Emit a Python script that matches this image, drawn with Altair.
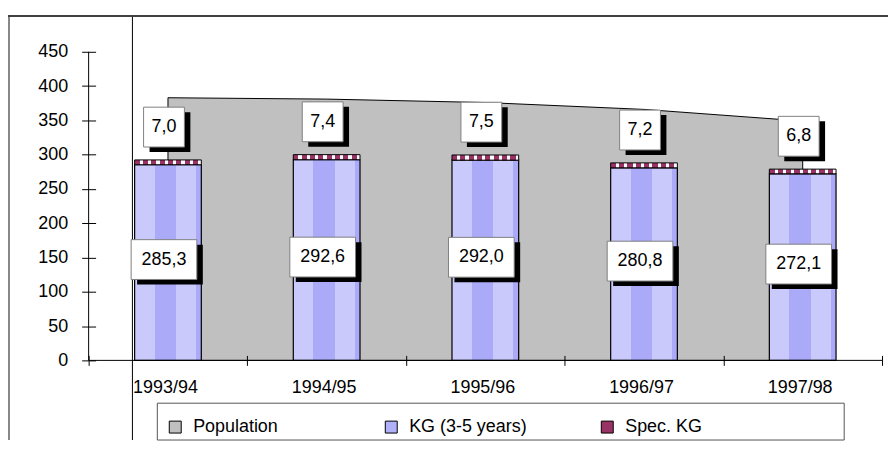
import altair as alt
import pandas as pd

# ---- data ----
years = ["1993/94", "1994/95", "1995/96", "1996/97", "1997/98"]
population = [383, 381, 376, 366, 349]
kg = [285.3, 292.6, 292.0, 280.8, 272.1]
spec_kg = [7.0, 7.4, 7.5, 7.2, 6.8]
y_ticks = [0, 50, 100, 150, 200, 250, 300, 350, 400, 450]
series = ["Population", "KG (3-5 years)", "Spec. KG"]


def fmt(v):
    return f"{v:.1f}".replace(".", ",")


df = pd.DataFrame({"year": years, "pop": population, "kg": kg, "spec": spec_kg})
df["top"] = df["kg"] + df["spec"]
df["mid"] = df["kg"] / 2
df["kg_label"] = [fmt(v) for v in kg]
df["spec_label"] = [fmt(v) for v in spec_kg]

FONT = "Liberation Sans"
W, H = 797, 310

# ---- styles ----
def stops(pairs):
    return [{"offset": o, "color": c} for o, c in pairs]

LIGHT, DARK = "#c9c9fc", "#aaaaf9"
kg_fill = {
    "gradient": "linear", "x1": 0, "x2": 1, "y1": 0, "y2": 0,
    "stops": stops([(0, LIGHT), (0.3, LIGHT), (0.3, DARK), (0.62, DARK),
                    (0.62, LIGHT), (0.92, LIGHT), (0.92, DARK), (1, DARK)]),
}
MAROON = "#993366"
sp = []
n = 8
for i in range(n):
    a = i / n
    b = (i + 0.62) / n
    c = (i + 1) / n
    sp += [(a, MAROON), (b, MAROON), (b, "white"), (c, "white")]
spec_fill = {"gradient": "linear", "x1": 0, "x2": 1, "y1": 0, "y2": 0, "stops": stops(sp)}

x_scale = alt.Scale(paddingInner=0, paddingOuter=0)
x_axis = alt.Axis(domain=False, offset=-5, tickSize=10, tickBand="extent",
                  labelPadding=13, labelAngle=0, labelOffset=-3, zindex=1)
x_enc = alt.X("year:N", sort=years, title=None, scale=x_scale, axis=x_axis)

y_scale = alt.Scale(domain=[0, 450], nice=False, zero=True)
y_axis = alt.Axis(domain=False, offset=-7, tickSize=14, labelPadding=14,
                  values=y_ticks, grid=False, zindex=1, labelOverlap=False)


def y_enc(field):
    return alt.Y(f"{field}:Q", title=None, scale=y_scale, axis=y_axis)

one = pd.DataFrame({"k": [0]})

# ---- decorative frame ----
frame_top = alt.Chart(one).mark_rule(color="#404040", strokeWidth=2).encode(
    x=alt.value(-81), x2=alt.value(W + 12), y=alt.value(-36))
frame_left = alt.Chart(one).mark_rule(color="#606060", strokeWidth=1.5).encode(
    x=alt.value(-80), y=alt.value(-36), y2=alt.value(H + 80))
frame_inner = alt.Chart(one).mark_rule(color="black", strokeWidth=1).encode(
    x=alt.value(44), y=alt.value(-36), y2=alt.value(H + 80))

# ---- data marks ----
area = alt.Chart(df).mark_area(fill="#c0c0c0", stroke="black", strokeWidth=1).encode(
    x=x_enc, y=y_enc("pop"))

bars_kg = alt.Chart(df).mark_bar(width=67, fill=kg_fill, stroke="black", strokeWidth=1.2).encode(
    x=x_enc, y=y_enc("kg"))

bars_spec = alt.Chart(df).mark_bar(width=67, fill=spec_fill, stroke="black", strokeWidth=1).encode(
    x=x_enc, y=y_enc("top"), y2="kg:Q")

# axis lines (drawn as rules so ticks can cross them)
x_axis_line = alt.Chart(one).mark_rule(color="black", strokeWidth=1).encode(
    x=alt.value(0), x2=alt.value(W), y=alt.value(H))
y_axis_line = alt.Chart(one).mark_rule(color="black", strokeWidth=1).encode(
    x=alt.value(0), y=alt.value(0), y2=alt.value(H))

BIG = "M-1,-0.606L1,-0.606L1,0.606L-1,0.606Z"
SMALL = "M-1,-0.976L1,-0.976L1,0.976L-1,0.976Z"


def label_layers(field, text_field, shape, size, dx, dy):
    base = alt.Chart(df).encode(x=x_enc, y=y_enc(field))
    shadow = base.mark_point(shape=shape, size=size, filled=True, fill="black",
                             strokeWidth=0, opacity=1, xOffset=dx + 6, yOffset=dy + 5)
    box = base.mark_point(shape=shape, size=size, filled=True, fill="white",
                          stroke="#808080", strokeWidth=1, opacity=1,
                          xOffset=dx, yOffset=dy)
    txt = base.mark_text(font=FONT, fontSize=18, color="black",
                         xOffset=dx, yOffset=dy).encode(text=f"{text_field}:N")
    return [shadow, box, txt]


kg_labels = label_layers("mid", "kg_label", BIG, 66 * 66, -4, -3)
spec_labels = label_layers("top", "spec_label", SMALL, 41 * 41, -4, -33)

# ---- legend ----
legend_box = alt.Chart(one).mark_rect(fill="transparent", stroke="#555555", strokeWidth=1).encode(
    x=alt.value(69), x2=alt.value(759), y=alt.value(353), y2=alt.value(390))

legend_layer = alt.Chart(pd.DataFrame({"series": series})).mark_square(
    size=0, stroke="black", strokeWidth=1, opacity=1).encode(
    color=alt.Color(
        "series:N",
        scale=alt.Scale(domain=series, range=["#c0c0c0", "#b0b0fb", MAROON]),
        legend=alt.Legend(
            title=None, orient="none", legendX=78, legendY=368,
            direction="horizontal", columns=3, gridAlign="all", columnPadding=71,
            symbolType="square", symbolSize=144, symbolStrokeColor="black",
            symbolStrokeWidth=1, symbolOpacity=1, labelFont=FONT, labelFontSize=18,
            labelColor="black", labelOffset=9, padding=0,
        ),
    )
)

chart = alt.layer(
    frame_inner, frame_left, area, bars_kg, bars_spec, x_axis_line, y_axis_line,
    *kg_labels, *spec_labels, legend_box, legend_layer, frame_top,
).properties(
    width=W, height=H,
    padding={"left": 81, "top": 43, "right": 6, "bottom": 82},
    autosize=alt.AutoSizeParams(type="none"),
).configure_view(stroke=None).configure_axis(
    labelFont=FONT, labelFontSize=18, labelColor="black",
    tickColor="black", tickWidth=1,
)

chart.save("out.html", embed_options={"renderer": "svg", "actions": False})
